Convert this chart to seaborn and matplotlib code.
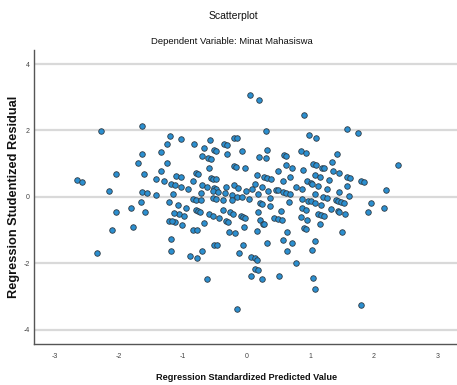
import matplotlib.pyplot as plt
import pandas as pd
import seaborn as sns


TITLE = "Scatterplot"
SUBTITLE = "Dependent Variable: Minat Mahasiswa"
XLABEL = "Regression Standardized Predicted Value"
YLABEL = "Regression Studentized Residual"

X_TICKS = [-3, -2, -1, 0, 1, 2, 3]
Y_TICKS = [-4, -2, 0, 2, 4]

# regression standardized predicted value
PRED = [
    -2.28, -1.63, -1.24, -1.33, -1.64, -1.70, -1.25, -2.05, -1.61, -1.33,
    -1.42, -2.66, -2.57, -1.29, -2.15, -1.63, -1.56, -1.41, -1.19,
    0.06, 0.20, 0.31, -1.02, -0.57, -0.19, -0.14, -0.82, -0.35, -0.31,
    -0.67, -0.51, -0.48, -0.30, -0.07, 0.33, -0.70, -0.60, -0.56, 0.20,
    0.30, 0.59, 0.62, 0.62, 0.71, -0.58, -0.20, -0.17, -0.02, -0.79,
    -0.76, -1.10, -1.03, 0.49, 0.17, 0.27, 0.32, -0.56, -0.53, -0.47,
    -0.84, 0.39, 0.57, 0.68, -1.18, -1.12, -1.02, -0.91, -0.70, -0.61,
    -0.51, -0.47, -0.32, -0.19, -0.13, -0.01, 0.09, 0.14, 0.25, 0.34,
    0.46, 0.50, 0.58, 0.62, -1.15, -0.71, -0.52, -0.45, -0.33, -0.22,
    -0.15, -0.07, 0.04, 0.19, 0.37, 0.68, -0.84, -0.79, -0.71, -0.52,
    -0.48, -0.37, -0.23, 0.21, 0.67, 0.78,
    -1.07, -0.94, -0.79, -0.76, -0.73, -1.06, -0.98, -0.58, -0.53, -0.43,
    -0.36, -0.26, -0.21, -0.09, -0.06, -0.02, 0.19, 0.21, 0.44, 0.50,
    0.56, 0.54, 0.37, 0.25, -1.12, -1.01, -0.66, -0.32, -0.29, -0.03,
    -0.83, -0.78, -0.27, -0.18, 0.17, 0.26, 0.28, 0.63, 0.57, 0.71,
    -0.51, -0.46, -0.05, 0.32, -0.70, -0.12, -0.89, -0.78, 0.07, 0.13,
    0.16, 0.63, 0.13, 0.18, 0.07, -0.62, 0.24, 0.51,
    0.87, 0.93, 0.85, 0.95, 1.12, 1.17, 1.22, 1.33, 1.44, 1.45,
    1.54, 1.90, 2.15, 1.15, 0.90, 0.94, 1.50, 1.07, 1.03, 0.77, 1.05,
    -1.21, -1.65, -1.80, -2.05, -1.59, -1.13, -1.21, -1.16, -2.10, -1.77,
    -1.18, -1.18, -2.34,
    0.85, 0.94, 1.42, 1.34, 1.05, 1.09, 1.18, 1.21, 0.88, 1.35,
    1.45, 2.38, 1.07, 1.16, 1.29, 1.58, 1.63, 0.95, 1.01, 1.03,
    1.13, 1.27, 1.58, 1.79, 1.84, 0.87, 1.45, 1.08, 1.61, 2.19,
    0.87, 1.20, 1.26, 0.97, 1.01, 1.07, 1.40, 1.44, 1.48, 1.53,
    1.96, 1.17,
    0.90, 0.98, 1.09, 1.58, 1.75, 1.08, -0.14, 1.80,
]

# regression studentized residual
RESID = [
    1.97, 2.12, 1.58, 1.36, 1.28, 1.02, 1.02, 0.69, 0.70, 0.77,
    0.55, 0.51, 0.46, 0.47, 0.18, 0.15, 0.11, 0.05, 1.84,
    3.06, 2.92, 1.99, 1.73, 1.71, 1.76, 1.76, 1.59, 1.58, 1.57,
    1.48, 1.40, 1.38, 1.30, 1.39, 1.42, 1.23, 1.17, 1.14, 1.20,
    1.17, 1.26, 1.23, 0.95, 0.87, 0.86, 0.92, 0.89, 0.86, 0.73,
    0.69, 0.63, 0.59, 0.77, 0.67, 0.60, 0.57, 0.57, 0.55, 0.53,
    0.47, 0.53, 0.47, 0.60, 0.40, 0.37, 0.30, 0.25, 0.37, 0.31,
    0.27, 0.24, 0.30, 0.35, 0.28, 0.19, 0.23, 0.40, 0.31, 0.19,
    0.22, 0.20, 0.14, 0.12, 0.09, 0.11, 0.17, 0.15, 0.12, 0.05,
    0.00, -0.01, -0.07, 0.09, -0.03, 0.09, -0.07, -0.09, -0.08, -0.03,
    -0.06, -0.10, -0.08, -0.17, -0.15, 0.30,
    -0.24, -0.32, -0.40, -0.42, -0.46, -0.52, -0.56, -0.52, -0.56, -0.64,
    -0.40, -0.46, -0.50, -0.56, -0.60, -0.62, -0.46, -0.70, -0.62, -0.66,
    -0.70, -0.42, -0.28, -0.22, -0.76, -0.84, -0.78, -0.72, -0.74, -0.90,
    -0.98, -0.98, -1.04, -1.08, -1.02, -0.80, -0.82, -1.04, -1.30, -1.39,
    -1.45, -1.45, -1.45, -1.40, -1.63, -1.70, -1.77, -1.84, -1.81, -1.85,
    -1.89, -1.64, -2.17, -2.19, -2.39, -2.47, -2.46, -2.38,
    -0.34, -0.38, -0.60, -0.68, -0.50, -0.53, -0.57, -0.36, -0.42, -0.44,
    -0.50, -0.44, -0.32, -0.80, -0.92, -0.97, -1.04, -1.33, -1.61, -1.99, -2.43,
    -0.14, -0.15, -0.32, -0.45, -0.46, -0.47, -0.71, -0.73, -1.00, -0.91,
    -1.28, -1.63, -1.70,
    1.37, 1.33, 1.30, 1.05, 0.98, 0.95, 0.87, 0.86, 0.80, 0.77,
    0.71, 0.95, 0.67, 0.59, 0.52, 0.61, 0.57, 0.47, 0.42, 0.38,
    0.33, 0.25, 0.34, 0.49, 0.45, 0.23, 0.14, 0.09, 0.03, 0.22,
    -0.05, 0.00, -0.03, -0.11, -0.13, -0.17, -0.10, -0.13, -0.15, -0.17,
    -0.17, -0.23,
    2.46, 1.86, 1.78, 2.04, 1.93, -2.76, -3.38, -3.26,
]

POINT_COLOR = "#2b8fd0"
EDGE_COLOR = "#2f3b45"
GRID_COLOR = "#d9d9d9"
NARROW = ["Liberation Sans Narrow", "Liberation Sans", "DejaVu Sans"]


def main():
    df = pd.DataFrame({"pred": PRED, "resid": RESID})

    sns.set_style("white")
    plt.rcParams["font.family"] = NARROW

    fig = plt.figure(figsize=(4.57, 3.85), dpi=100)
    ax = fig.add_axes([0.074, 0.106, 0.926, 0.764])

    ax.set_axisbelow(True)
    ax.grid(axis="y", color=GRID_COLOR, linewidth=1.6)

    sns.scatterplot(df, x="pred", y="resid", ax=ax, s=16,
                    color=POINT_COLOR, edgecolor=EDGE_COLOR,
                    linewidth=0.6, legend=False, zorder=3)

    ax.set_xlim(-3.33, 3.3)
    ax.set_ylim(-4.43, 4.42)
    ax.set_xticks(X_TICKS)
    ax.set_yticks(Y_TICKS)
    ax.set_xticklabels([str(t) for t in X_TICKS])
    ax.set_yticklabels([str(t) for t in Y_TICKS])
    ax.tick_params(axis="x", length=0, pad=6, labelsize=5, labelcolor="#444444")
    ax.tick_params(axis="y", length=0, pad=3, labelsize=5, labelcolor="#444444")
    ax.set_xlabel("")
    ax.set_ylabel("")

    for side in ("top", "right"):
        ax.spines[side].set_visible(False)
    for side in ("left", "bottom"):
        ax.spines[side].set_color("#555555")
        ax.spines[side].set_linewidth(1.0)

    fig.text(233 / 457, 1 - 16 / 385, TITLE, ha="center", va="center",
             fontsize=7.5, color="#111111")
    fig.text(232 / 457, 1 - 41 / 385, SUBTITLE, ha="center", va="center",
             fontsize=6.8, color="#111111")
    fig.text(247 / 457, 1 - 378 / 385, XLABEL, ha="center", va="center",
             fontsize=6.6, fontweight="bold", color="#111111")
    fig.text(14 / 457, 1 - 197 / 385, YLABEL, ha="center", va="center",
             rotation=90, fontsize=9.2, fontweight="bold", color="#111111",
             family=["Liberation Sans", "DejaVu Sans"])

    fig.savefig("out.png", dpi=100)
    plt.close(fig)


if __name__ == "__main__":
    main()
